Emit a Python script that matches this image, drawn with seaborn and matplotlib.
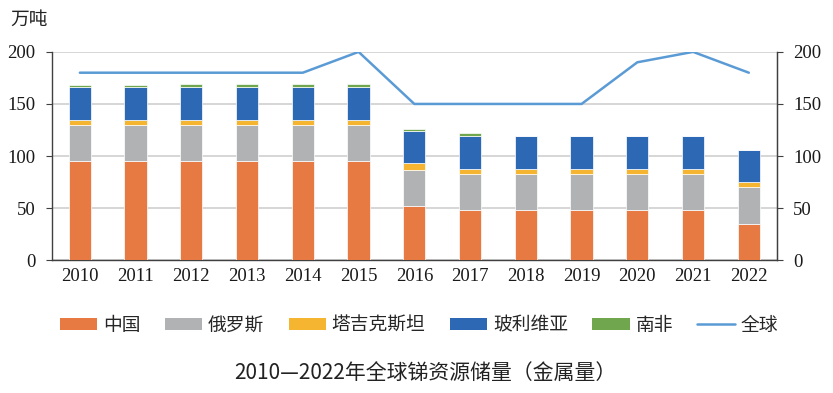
import numpy as np
import pandas as pd
import matplotlib
matplotlib.use("Agg")
import matplotlib.pyplot as plt
import seaborn as sns
from matplotlib.patches import Patch
from matplotlib.lines import Line2D

sns.set_style("white")
plt.rcParams['font.family'] = ['Noto Sans CJK SC', 'DejaVu Sans']

# data (万吨)
years = ['2010', '2011', '2012', '2013', '2014', '2015', '2016', '2017', '2018', '2019', '2020', '2021', '2022']
china = [95, 95, 95, 95, 95, 95, 52, 48, 48, 48, 48, 48, 35]
russia = [35, 35, 35, 35, 35, 35, 35, 35, 35, 35, 35, 35, 35]
tajik = [5, 5, 5, 5, 5, 5, 6, 5, 5, 5, 5, 5, 5]
bolivia = [31, 31, 31, 31, 31, 31, 31, 31, 31, 31, 31, 31, 31]
safrica = [2, 2, 3, 3, 3, 3, 2, 3, 0, 0, 0, 0, 0]
world = [180, 180, 180, 180, 180, 200, 150, 150, 150, 150, 190, 200, 180]

names = ['中国', '俄罗斯', '塔吉克斯坦', '玻利维亚', '南非']
series = [china, russia, tajik, bolivia, safrica]
colors = ['#E67A42', '#B1B2B4', '#F6B531', '#2C68B4', '#6FA64E']
line_color = '#5B9BD5'

fig = plt.figure(figsize=(8.33, 3.93), dpi=100)
ax = fig.add_axes([0.0624, 0.338, 0.870, 0.530])

bottom = np.zeros(len(years))
for name, vals, c in zip(names, series, colors):
    sns.barplot(x=years, y=vals, bottom=bottom, color=c, width=0.4, saturation=1,
                edgecolor='white', linewidth=0.5, ax=ax, zorder=3)
    bottom += np.array(vals)

sns.lineplot(x=np.arange(len(years)), y=world, color=line_color, linewidth=1.8, ax=ax, zorder=4)

ax.set_ylim(0, 200)
ax.set_xlim(-0.5, len(years) - 0.5)
ax.set_yticks([0, 50, 100, 150, 200])
ax.yaxis.grid(True, color='#D0D0D0', linewidth=1.2, zorder=0)
ax.set_axisbelow(True)
ax.set_xlabel('')
ax.set_ylabel('')

ax.spines['top'].set_visible(False)
for s in ['left', 'right', 'bottom']:
    ax.spines[s].set_color('#404040')
    ax.spines[s].set_linewidth(1.0)

ax.set_xticks(np.arange(len(years)))
ax.set_xticklabels(years)
ax.tick_params(axis='x', length=0, pad=6)
ax.tick_params(axis='y', direction='out', length=4, color='#404040', pad=8)
# tick marks between categories
ax.set_xticks(np.arange(len(years) + 1) - 0.5, minor=True)
ax.tick_params(axis='x', which='minor', direction='out', length=5, color='#404040')

ax2 = ax.twinx()
ax2.set_ylim(0, 200)
ax2.set_yticks([0, 50, 100, 150, 200])
ax2.tick_params(axis='y', direction='out', length=4, color='#404040', pad=8)
for s in ['top', 'left', 'bottom']:
    ax2.spines[s].set_visible(False)
ax2.spines['right'].set_color('#404040')

for lab in ax.get_xticklabels() + ax.get_yticklabels() + ax2.get_yticklabels():
    lab.set_fontfamily('Liberation Serif')
    lab.set_fontsize(13.5)
    lab.set_color('#1a1a1a')

fig.text(0.012, 0.95, '万吨', fontsize=13.5, ha='left', va='center', color='#222222')

handles = [Patch(facecolor=c, edgecolor='none') for c in colors]
handles.append(Line2D([0], [0], color=line_color, linewidth=1.8))
fig.legend(handles, names + ['全球'], loc='center', bbox_to_anchor=(0.503, 0.173), ncol=6,
           frameon=False, fontsize=13.5, handlelength=2.0, handleheight=0.55,
           columnspacing=1.3, handletextpad=0.3)

fig.text(0.51, 0.052, '2010—2022年全球锑资源储量（金属量）', fontsize=15,
         ha='center', va='center', color='#222222')

fig.savefig('out.png', dpi=100)
